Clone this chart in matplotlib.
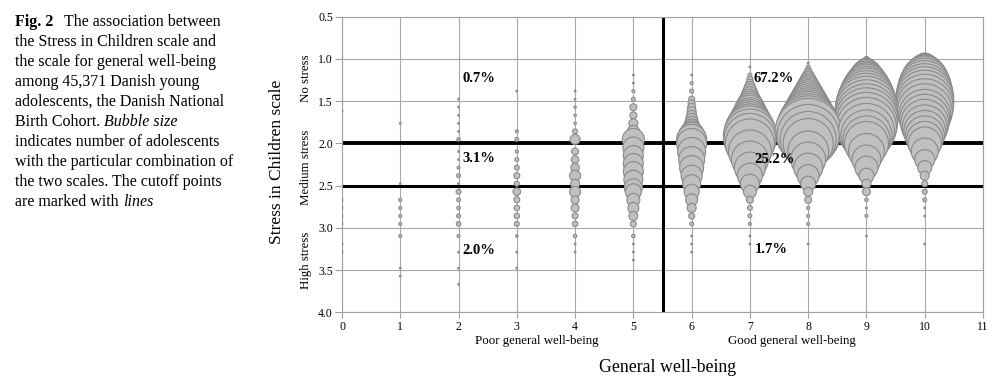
import matplotlib.pyplot as plt
import pandas as pd

plt.rcParams['font.family'] = ['Liberation Serif', 'DejaVu Serif']

# ---- data: number of adolescents per (general well-being, stress score) cell ----
wellbeing = list(range(11))

stress_0 = [1.619, 2.667, 2.762, 2.857, 2.952, 3.190, 3.286]
count_0 = [1, 1, 1, 1, 1, 1, 1]

stress_1 = [1.762, 2.476, 2.667, 2.762, 2.857, 2.952, 3.095, 3.476, 3.571]
count_1 = [1, 1, 3, 3, 3, 3, 3, 1, 1]

stress_2 = [1.476, 1.571, 1.667, 1.762, 1.857, 1.952, 2.095, 2.190, 2.286, 2.381,
            2.476, 2.571, 2.667, 2.762, 2.857, 2.952, 3.095, 3.286, 3.476, 3.667]
count_2 = [1, 1, 1, 1, 1, 4, 1, 1, 3, 5, 1, 8, 5, 4, 5, 7, 3, 1, 1, 1]

stress_3 = [1.381, 1.857, 1.952, 2.095, 2.190, 2.286, 2.381, 2.476, 2.571, 2.667,
            2.762, 2.857, 2.952, 3.095, 3.286, 3.476]
count_3 = [1, 3, 5, 3, 5, 8, 12, 8, 19, 12, 10, 10, 8, 2, 1, 1]

stress_4 = [1.381, 1.476, 1.571, 1.667, 1.762, 1.857, 1.952, 2.095, 2.190, 2.286,
            2.381, 2.476, 2.571, 2.667, 2.762, 2.857, 2.952, 3.095, 3.190, 3.286]
count_4 = [1, 1, 2, 2, 2, 8, 33, 16, 19, 24, 40, 27, 40, 21, 21, 12, 10, 4, 1, 1]

stress_5 = [1.190, 1.286, 1.381, 1.476, 1.571, 1.667, 1.762, 1.857, 1.952, 2.048,
            2.143, 2.238, 2.333, 2.429, 2.524, 2.571, 2.667, 2.762, 2.857, 2.952,
            3.095, 3.190, 3.286, 3.381]
count_5 = [1, 1, 3, 5, 16, 16, 27, 48, 161, 147, 133, 133, 133, 120, 108, 85, 56, 40,
           27, 12, 4, 1, 1, 1]

stress_6 = [1.190, 1.286, 1.381, 1.476, 1.524, 1.571, 1.619, 1.667, 1.714, 1.762,
            1.810, 1.857, 1.905, 1.952, 2.000, 2.095, 2.190, 2.286, 2.381, 2.476,
            2.571, 2.667, 2.762, 2.857, 2.952, 3.095, 3.190, 3.286]
count_6 = [1, 3, 5, 12, 16, 21, 27, 33, 48, 65, 96, 147, 225, 300, 300, 261, 225, 192,
           147, 108, 75, 48, 27, 12, 5, 1, 1, 1]

stress_7 = [1.095, 1.190, 1.238, 1.286, 1.333, 1.381, 1.429, 1.476, 1.524, 1.571,
            1.619, 1.667, 1.714, 1.762, 1.810, 1.857, 1.905, 1.952, 2.000, 2.095,
            2.190, 2.286, 2.381, 2.476, 2.571, 2.667, 2.762, 2.857, 2.952, 3.095, 3.190]
count_7 = [1, 5, 12, 21, 40, 65, 96, 133, 192, 261, 341, 408, 507, 616, 736, 867, 936,
           901, 800, 616, 456, 320, 208, 120, 56, 16, 8, 5, 3, 1, 1]

stress_8 = [1.048, 1.095, 1.143, 1.190, 1.238, 1.286, 1.333, 1.381, 1.429, 1.476,
            1.524, 1.571, 1.619, 1.667, 1.714, 1.762, 1.810, 1.857, 1.905, 1.952,
            2.000, 2.095, 2.190, 2.286, 2.381, 2.476, 2.571, 2.667, 2.762, 2.857,
            2.952, 3.190]
count_8 = [1, 5, 16, 40, 75, 120, 176, 243, 320, 408, 507, 616, 736, 867, 1008, 1160,
           1323, 1452, 1281, 1045, 833, 560, 408, 280, 161, 75, 27, 16, 3, 3, 3, 1]

stress_9 = [1.000, 1.048, 1.095, 1.143, 1.190, 1.238, 1.286, 1.333, 1.381, 1.429,
            1.476, 1.524, 1.571, 1.619, 1.667, 1.714, 1.762, 1.810, 1.857, 1.905,
            1.952, 2.000, 2.095, 2.190, 2.286, 2.381, 2.476, 2.571, 2.667, 2.762,
            2.857, 3.095]
count_9 = [8, 40, 108, 208, 320, 432, 560, 705, 833, 972, 1083, 1200, 1281, 1323, 1323,
           1323, 1281, 1200, 1045, 867, 736, 645, 432, 280, 176, 75, 27, 21, 4, 1, 3, 1]

stress_10 = [1.000, 1.048, 1.095, 1.143, 1.190, 1.238, 1.286, 1.333, 1.381, 1.429,
             1.476, 1.524, 1.571, 1.619, 1.667, 1.714, 1.762, 1.810, 1.857, 1.905,
             1.952, 2.000, 2.095, 2.190, 2.286, 2.381, 2.476, 2.571, 2.667, 2.762,
             2.857, 3.190]
count_10 = [33, 133, 243, 385, 533, 705, 833, 936, 1008, 1083, 1121, 1121, 1083, 1008,
            901, 833, 768, 675, 588, 507, 432, 363, 243, 133, 65, 27, 12, 8, 5, 1, 1, 1]

stress_by_wb = [stress_0, stress_1, stress_2, stress_3, stress_4, stress_5,
                stress_6, stress_7, stress_8, stress_9, stress_10]
count_by_wb = [count_0, count_1, count_2, count_3, count_4, count_5,
               count_6, count_7, count_8, count_9, count_10]

stress_cutoffs = [2.0, 2.5]
wellbeing_cutoff = 5.5
quadrant_pct = ['0.7%', '3.1%', '2.0%', '67.2%', '25.2%', '1.7%']

# ---- build one table, drawn top-to-bottom like the original bubble chart ----
rows = []
for wb, ys, ns in zip(wellbeing, stress_by_wb, count_by_wb):
    for y, n in zip(ys, ns):
        rows.append((wb, y, n))
df = pd.DataFrame(rows, columns=['wellbeing', 'stress', 'n'])
df = df.sort_values(['stress', 'wellbeing'])

fig = plt.figure(figsize=(10, 3.83), dpi=100)
ax = fig.add_axes([0.342, 0.1841, 0.641, 0.7723])

# bubble area proportional to count
ax.scatter(df['wellbeing'], df['stress'], s=df['n'] * 1.555,
           c='#c0c0c0', edgecolors='#8a8a8a', linewidths=0.8, zorder=3)

# cutoff lines
ax.axhline(stress_cutoffs[0], color='black', lw=2.8, zorder=2)
ax.axhline(stress_cutoffs[1], color='black', lw=2.2, zorder=2)
ax.axvline(wellbeing_cutoff, color='black', lw=2.2, zorder=2)

ax.set_xlim(0, 11)
ax.set_ylim(4.0, 0.5)
ax.set_xticks(range(12))
ax.set_yticks([0.5, 1.0, 1.5, 2.0, 2.5, 3.0, 3.5, 4.0])
ax.set_yticklabels(['%.1f' % v for v in ax.get_yticks()])
ax.grid(True, color='#a8a8a8', linewidth=0.8, zorder=0)
ax.set_axisbelow(True)
for sp in ax.spines.values():
    sp.set_color('#a0a0a0')
    sp.set_linewidth(0.8)
ax.tick_params(axis='y', direction='out', length=5, width=0.8, color='#a0a0a0',
               pad=1.5, labelsize=8.5)
ax.tick_params(axis='x', direction='out', length=4, width=0.8, color='#a0a0a0',
               pad=2, labelsize=8.5)

# quadrant percentages
pct_pos = [(2.07, 1.23), (2.07, 2.18), (2.07, 3.27),
           (7.07, 1.23), (7.08, 2.19), (7.08, 3.26)]
for label, (px, py) in zip(quadrant_pct, pct_pos):
    ax.text(px, py, label, fontsize=10.5, fontweight='bold', ha='left', va='center',
            zorder=6)

# axis titles and band labels
fig.text(0.277, 0.578, 'Stress in Children scale', rotation=90, ha='center',
         va='center', fontsize=12.5)
for txt, yc in [('No stress', 78), ('Medium stress', 167), ('High stress', 260)]:
    fig.text(0.306, 1 - yc / 383, txt, rotation=90, ha='center', va='center',
             fontsize=9.3)
fig.text(0.5365, 1 - 341 / 383, 'Poor general well-being', ha='center', va='center',
         fontsize=9.3)
fig.text(0.7915, 1 - 341 / 383, 'Good general well-being', ha='center', va='center',
         fontsize=9.3)
fig.text(0.668, 1 - 368 / 383, 'General well-being', ha='center', va='center',
         fontsize=12.8)

# caption on the left
caption = [
    [('Fig. 2', 'bold', 0), ('The association between', 'normal', 8)],
    [('the Stress in Children scale and', 'normal', 0)],
    [('the scale for general well-being', 'normal', 0)],
    [('among 45,371 Danish young', 'normal', 0)],
    [('adolescents, the Danish National', 'normal', 0)],
    [('Birth Cohort.', 'normal', 0), ('Bubble size', 'italic', 3)],
    [('indicates number of adolescents', 'normal', 0)],
    [('with the particular combination of', 'normal', 0)],
    [('the two scales. The cutoff points', 'normal', 0)],
    [('are marked with', 'normal', 0), ('lines', 'italic', 3)],
]
for i, parts in enumerate(caption):
    yb = 1 - (26 + 20 * i) / 383
    prev = None
    for txt, style, gap in parts:
        kw = dict(fontsize=11.5,
                  fontweight='bold' if style == 'bold' else 'normal',
                  fontstyle='italic' if style == 'italic' else 'normal')
        if prev is None:
            prev = fig.text(0.015, yb, txt, ha='left', va='baseline', **kw)
        else:
            prev = ax.annotate(txt, xy=(1, 0), xycoords=prev, xytext=(gap, 0),
                               textcoords='offset points', ha='left', va='bottom',
                               annotation_clip=False, **kw)

fig.savefig('out.png', dpi=100)
